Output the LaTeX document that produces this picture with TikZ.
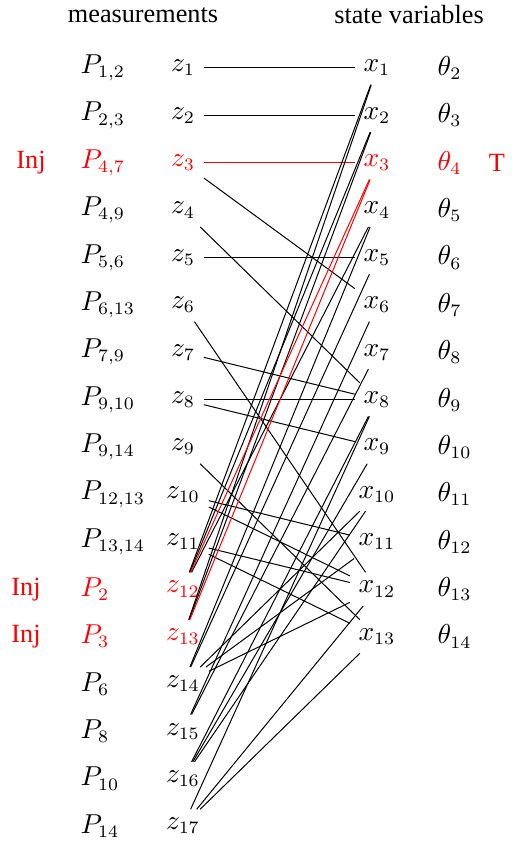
\documentclass[tikz,border=0pt]{standalone}
\usepackage[no-math]{fontspec}
\setmainfont{Liberation Serif}
\begin{document}
\begin{tikzpicture}[x=0.4pt,y=-0.4pt,
  every node/.style={font=\fontsize{10.5pt}{12.5pt}\selectfont},
  vnode/.style={inner sep=3.33pt},
  lbl/.style={inner sep=0pt,anchor=west},
  hdr/.style={inner sep=0pt},
  att/.style={red},
  link/.style={line width=0.4pt}]
\useasboundingbox (0,0) rectangle (515,844);
\node[hdr] (hm) at (143,15) {measurements};
\node[hdr] (hs) at (409,15) {state variables};
% measurement labels
\foreach \i/\t/\c in {1/{P_{1,2}}/black,2/{P_{2,3}}/black,3/{P_{4,7}}/red,4/{P_{4,9}}/black,
  5/{P_{5,6}}/black,6/{P_{6,13}}/black,7/{P_{7,9}}/black,8/{P_{9,10}}/black,9/{P_{9,14}}/black,
  10/{P_{12,13}}/black,11/{P_{13,14}}/black,12/{P_{2}}/red,13/{P_{3}}/red,14/{P_{6}}/black,
  15/{P_{8}}/black,16/{P_{10}}/black,17/{P_{14}}/black}{
  \pgfmathsetmacro\yy{68+47.375*(\i-1)}
  \node[lbl,text=\c] (p\i) at (80,\yy) {$\t$};
  \node[vnode,text=\c] (z\i) at (183,\yy) {$z_{\i}$};
}
% state variables
\foreach \j/\c in {1/black,2/black,3/red,4/black,5/black,6/black,7/black,8/black,9/black,10/black,11/black,12/black,13/black}{
  \pgfmathsetmacro\yy{68+47.375*(\j-1)}
  \pgfmathtruncatemacro\k{\j+1}
  \node[vnode,text=\c] (x\j) at (377,\yy) {$x_{\j}$};
  \node[lbl,text=\c] (t\k) at (437,\yy) {$\theta_{\k}$};
}
\node[hdr,text=red] (inj3) at (31,162.75) {Inj};
\node[hdr,text=red] (inj12) at (26,589.1) {Inj};
\node[hdr,text=red] (inj13) at (26,636.5) {Inj};
\node[hdr,text=red] (tt) at (497,162.75) {T};
% flow measurement links
\foreach \a/\b in {1/1,2/2,3/6,4/8,5/5,6/12,7/8,8/8,8/9,9/13,10/11,10/12,11/12,11/13}
  \draw[link] (z\a) -- (x\b);
\draw[link,att] (z3) -- (x3);
% injection links
\foreach \a/\b in {12/1,12/2,12/4,13/1,13/2,14/4,14/5,14/10,14/11,14/12,15/6,15/7,16/8,16/9,16/10,17/8,17/12,17/13}
  \draw[link] (z\a) -- (x\b);
\draw[link,att] (z12) -- (x3);
\draw[link,att] (z13) -- (x3);
\end{tikzpicture}
\end{document}
